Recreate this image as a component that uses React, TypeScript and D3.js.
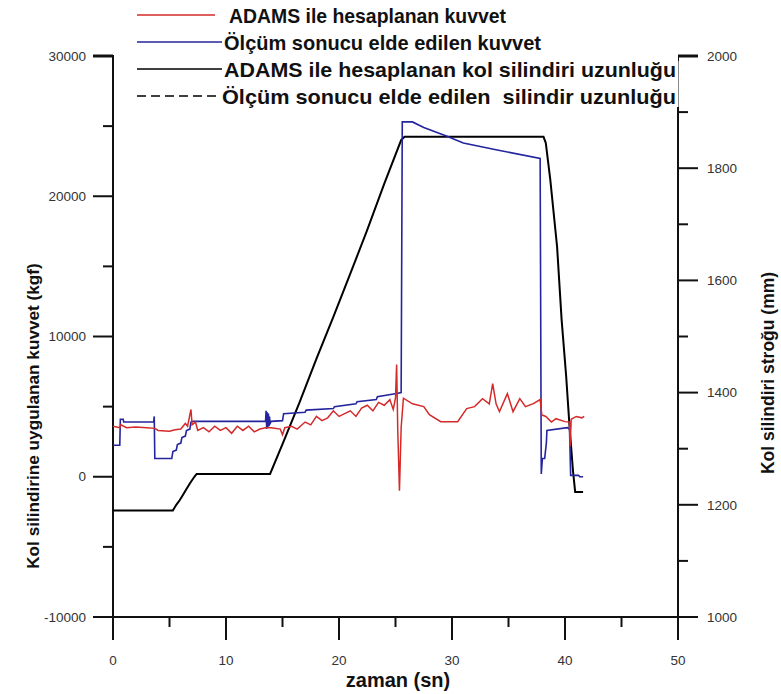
import React from "react";
import * as d3 from "d3";

// ---------- data ----------
const legendLabels = [
  "ADAMS ile hesaplanan kuvvet",
  "Ölçüm sonucu elde edilen kuvvet",
  "ADAMS ile hesaplanan kol silindiri uzunluğu",
  "Ölçüm sonucu elde edilen  silindir uzunluğu",
];
const xTitle = "zaman (sn)";
const yLeftTitle = "Kol silindirine uygulanan kuvvet (kgf)";
const yRightTitle = "Kol silindiri stroğu (mm)";

const xMajorTicks = [0, 10, 20, 30, 40, 50];
const xMinorTicks = [5, 15, 25, 35, 45];
const yLeftMajorTicks = [-10000, 0, 10000, 20000, 30000];
const yLeftMinorTicks = [-5000, 5000, 15000, 25000];
const yRightMajorTicks = [1000, 1200, 1400, 1600, 1800, 2000];
const yRightMinorTicks = [1100, 1300, 1500, 1700, 1900];

// time (s) / force (kgf) – ADAMS computed force (red)
const redT = [0, 0.6, 0.7, 1.2, 2.0, 3.0, 3.7, 4.0, 5.0, 5.5, 6.0, 6.4, 6.6, 6.9, 7.0, 7.3, 7.5, 8.0, 8.5, 9.0, 9.5, 10.0, 10.5, 11.0, 11.5, 12.0, 12.5, 13.0, 13.5, 14.0, 14.8, 15.0, 15.2, 15.8, 16.3, 17.0, 17.5, 18.0, 18.5, 19.0, 19.5, 20.0, 20.5, 21.0, 21.5, 22.0, 22.5, 23.0, 23.5, 24.0, 24.5, 24.8, 25.0, 25.1, 25.2, 25.35, 25.5, 25.7, 26.5, 27.5, 28.0, 29.0, 30.5, 31.3, 32.0, 32.7, 33.3, 33.6, 33.9, 34.2, 34.9, 35.4, 36.0, 36.5, 37.2, 37.8, 37.95, 38.3, 38.8, 39.2, 40.0, 40.4, 40.45, 40.55, 41.0, 41.5, 41.7];
const redV = [3600, 3500, 3700, 3500, 3550, 3500, 3450, 3300, 3250, 3350, 3400, 3800, 3600, 4800, 3700, 3900, 3300, 3500, 3200, 3600, 3300, 3500, 3100, 3600, 3300, 3600, 3200, 3400, 3500, 3500, 3400, 3000, 3500, 3600, 3400, 3900, 3700, 4300, 4000, 4200, 4700, 4300, 4500, 4700, 4300, 4900, 5100, 4700, 5300, 5100, 5500, 4800, 5600, 8000, 3300, -1000, 3500, 5600, 5200, 5000, 4430, 3930, 3930, 4860, 5000, 5570, 5200, 6640, 5200, 4640, 5930, 4640, 5570, 5000, 5210, 5500, 4400, 4300, 3900, 4140, 3930, 3900, 2150, 4100, 4300, 4200, 4300];

// measured force (blue)
const blueT = [0, 0.6, 0.65, 0.9, 0.95, 3.6, 3.65, 3.7, 5.2, 5.3, 5.6, 5.7, 6.0, 6.1, 6.4, 6.5, 6.8, 6.9, 7.1, 13.5, 13.55, 13.6, 13.65, 13.7, 13.75, 13.8, 13.85, 13.9, 14.0, 15.0, 15.1, 17.0, 17.1, 19.5, 19.6, 21.5, 21.6, 23.3, 23.4, 25.1, 25.5, 25.6, 26.5, 27.5, 29.5, 31.0, 34.0, 37.8, 37.9, 38.0, 38.2, 38.35, 38.4, 40.2, 40.4, 40.5, 41.2, 41.3, 41.6];
const blueV = [2250, 2250, 4100, 4100, 3900, 3900, 4300, 1300, 1300, 1800, 1900, 2300, 2400, 2800, 2900, 3300, 3400, 3900, 3950, 3950, 4700, 3400, 4600, 3500, 4500, 3600, 4300, 3800, 3950, 4000, 4500, 4600, 4750, 4860, 5000, 5200, 5350, 5500, 5700, 5930, 6000, 25300, 25300, 24900, 24300, 23800, 23300, 22700, 200, 1300, 1300, 2400, 3300, 3500, 3400, 100, 100, 0, 0];

// ADAMS cylinder length (black, mm)
const blackT = [0, 5.3, 5.6, 5.9, 6.2, 6.5, 6.8, 7.2, 7.4, 13.9, 15.0, 16.5, 18.0, 19.5, 21.0, 22.5, 24.0, 25.5, 25.8, 38.1, 38.3, 38.7, 39.3, 39.7, 40.1, 40.4, 40.7, 40.9, 41.6];
const blackV = [1190, 1190, 1200, 1208, 1218, 1228, 1238, 1250, 1255, 1255, 1308, 1382, 1460, 1535, 1612, 1690, 1772, 1850, 1856, 1856, 1845, 1779, 1660, 1530, 1430, 1340, 1262, 1223, 1223];

// ---------- layout ----------
const W = 781;
const H = 694;
const FONT = "'Liberation Sans', Arial, sans-serif";

export default function App() {
  const x = d3.scaleLinear().domain([0, 50]).range([113, 678]);
  const yL = d3.scaleLinear().domain([-10000, 30000]).range([617, 56]);
  const yR = d3.scaleLinear().domain([1000, 2000]).range([617, 56]);

  const lineL = d3.line<[number, number]>().x((d) => x(d[0])).y((d) => yL(d[1]));
  const lineR = d3.line<[number, number]>().x((d) => x(d[0])).y((d) => yR(d[1]));

  const red = redT.map((t, i) => [t, redV[i]] as [number, number]);
  const blue = blueT.map((t, i) => [t, blueV[i]] as [number, number]);
  const black = blackT.map((t, i) => [t, blackV[i]] as [number, number]);

  const x0 = x(0);
  const x1 = x(50);
  const yBase = yL(-10000);
  const yTop = yL(30000);

  const legendRows = [
    { y: 15, color: "#d42a2a", dash: undefined as string | undefined, x2: 215, tx: 229, len: 277 },
    { y: 42, color: "#24249e", dash: undefined, x2: 222, tx: 224, len: 317 },
    { y: 69, color: "#000", dash: undefined, x2: 222, tx: 224, len: 452 },
    { y: 96, color: "#000", dash: "9 5", x2: 218, tx: 222, len: 454 },
  ];

  return (
    <svg width={W} height={H} style={{ position: "absolute", left: 0, top: 0, background: "#fff" }}>
      {/* axes lines */}
      <g stroke="#111" strokeWidth={2} fill="none">
        <line x1={x0} x2={x0} y1={yTop - 1} y2={yBase + 23} />
        <line x1={x1} x2={x1} y1={yTop - 1} y2={yBase + 23} />
        <line x1={x0} x2={x1} y1={yBase} y2={yBase} />
        {xMajorTicks.map((t) => (
          <line key={"xm" + t} x1={x(t)} x2={x(t)} y1={yBase} y2={yBase + 23} />
        ))}
        {xMinorTicks.map((t) => (
          <line key={"xn" + t} x1={x(t)} x2={x(t)} y1={yBase} y2={yBase + 10} />
        ))}
        {yLeftMajorTicks.map((t) => (
          <line key={"lm" + t} x1={x0 - 20} x2={x0} y1={yL(t)} y2={yL(t)} strokeWidth={t === 30000 ? 3 : 2} />
        ))}
        {yLeftMinorTicks.map((t) => (
          <line key={"ln" + t} x1={x0 - 10} x2={x0} y1={yL(t)} y2={yL(t)} />
        ))}
        {yRightMajorTicks.map((t) => (
          <line key={"rm" + t} x1={x1} x2={x1 + 20} y1={yR(t)} y2={yR(t)} strokeWidth={t === 2000 ? 3 : 2} />
        ))}
        {yRightMinorTicks.map((t) => (
          <line key={"rn" + t} x1={x1} x2={x1 + 10} y1={yR(t)} y2={yR(t)} />
        ))}
      </g>

      {/* legend (white box hides part of right axis) */}
      <rect x={128} y={0} width={550} height={61} fill="#fff" />
      <rect x={128} y={61} width={550.5} height={46} fill="#fff" />
      {legendRows.map((r, i) => (
        <g key={i}>
          <line x1={137} x2={r.x2} y1={r.y} y2={r.y} stroke={r.color} strokeWidth={1.5} strokeDasharray={r.dash} />
          <text
            x={r.tx}
            y={r.y}
            dy="0.36em"
            fontFamily={FONT}
            fontWeight="bold"
            fontSize={21}
            textLength={r.len}
            lengthAdjust="spacingAndGlyphs"
            style={{ whiteSpace: "pre" }}
            fill="#111"
          >
            {legendLabels[i]}
          </text>
        </g>
      ))}

      {/* tick labels */}
      <g fontFamily={FONT} fontSize={13.5} fill="#333">
        {xMajorTicks.map((t) => (
          <text key={"xl" + t} x={x(t)} y={660} dy="0.35em" textAnchor="middle">
            {t}
          </text>
        ))}
        {yLeftMajorTicks.map((t) => (
          <text key={"ll" + t} x={86} y={yL(t)} dy="0.35em" textAnchor="end">
            {t}
          </text>
        ))}
        {yRightMajorTicks.map((t) => (
          <text key={"rl" + t} x={707} y={yR(t)} dy="0.35em" textAnchor="start">
            {t}
          </text>
        ))}
      </g>

      {/* axis titles */}
      <text x={398} y={680} dy="0.36em" textAnchor="middle" fontFamily={FONT} fontWeight="bold" fontSize={20} fill="#111">
        {xTitle}
      </text>
      <text
        transform="translate(33,416) rotate(-90)"
        dy="0.36em"
        textAnchor="middle"
        fontFamily={FONT}
        fontWeight="bold"
        fontSize={17.2}
        fill="#111"
      >
        {yLeftTitle}
      </text>
      <text
        transform="translate(768,373) rotate(-90)"
        dy="0.36em"
        textAnchor="middle"
        fontFamily={FONT}
        fontWeight="bold"
        fontSize={17.5}
        fill="#111"
      >
        {yRightTitle}
      </text>

      {/* series */}
      <path d={lineR(black) || ""} fill="none" stroke="#000" strokeWidth={2} />
      <path d={lineL(blue) || ""} fill="none" stroke="#24249e" strokeWidth={1.6} />
      <path d={lineL(red) || ""} fill="none" stroke="#d42a2a" strokeWidth={1.5} />
    </svg>
  );
}
